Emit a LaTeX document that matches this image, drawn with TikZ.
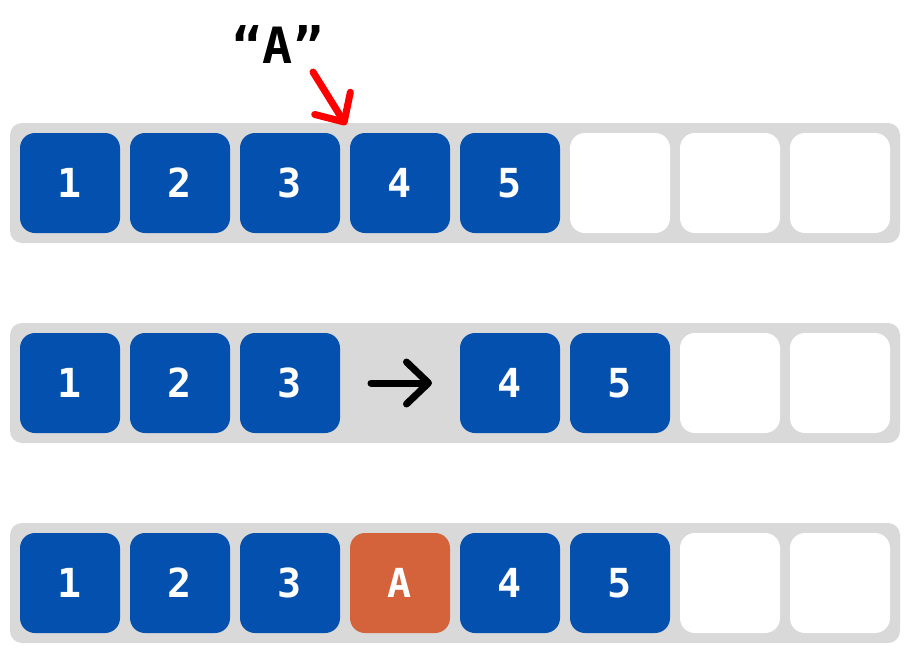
\documentclass[tikz,border=0pt]{standalone}
\usepackage{fontspec}
\setmonofont{DejaVu Sans Mono}
\usetikzlibrary{arrows.meta}
\definecolor{cellblue}{HTML}{0450AE}
\definecolor{cellorange}{HTML}{D4623A}
\definecolor{bargray}{HTML}{D9D9D9}
\tikzset{
  bar/.style={fill=bargray, rounded corners=12pt, minimum width=890pt,
    minimum height=120pt, inner sep=0pt},
  cell/.style={rounded corners=15pt, minimum size=100pt, inner sep=0pt,
    text=white, font=\ttfamily\bfseries\fontsize{40}{40}\selectfont},
  full/.style={cell, fill=cellblue},
  empty/.style={cell, fill=white},
  new/.style={cell, fill=cellorange},
  push/.style={line width=7pt, line cap=round,
    -{Straight Barb[length=22pt, width=42pt, round]}}
}
\begin{document}
\begin{tikzpicture}[x=1pt, y=-1pt]
      \useasboundingbox (0,0) rectangle (910,657);
      % before
      \node[bar] (row1) at (455,183) {};
      \node[full] (a1) at (70,183) {1};
      \node[full] (a2) at (180,183) {2};
      \node[full] (a3) at (290,183) {3};
      \node[full] (a4) at (400,183) {4};
      \node[full] (a5) at (510,183) {5};
      \node[empty] (a6) at (620,183) {};
      \node[empty] (a7) at (730,183) {};
      \node[empty] (a8) at (840,183) {};
      \node[font=\ttfamily\bfseries\fontsize{50}{50}\selectfont] (label) at (278,44) {“A”};
      \coordinate (from) at (313,72);
      \coordinate (to) at (346,125);
      \draw[push, red] (from) -- (to);
      % shift
      \node[bar] (row2) at (455,383) {};
      \node[full] (b1) at (70,383) {1};
      \node[full] (b2) at (180,383) {2};
      \node[full] (b3) at (290,383) {3};
      \node[full] (b4) at (510,383) {4};
      \node[full] (b5) at (620,383) {5};
      \node[empty] (b6) at (730,383) {};
      \node[empty] (b7) at (840,383) {};
      \coordinate (gap) at (371,383);
      \coordinate (next) at (432,383);
      \draw[push, black] (gap) -- (next);
      % after
      \node[bar] (row3) at (455,583) {};
      \node[full] (c1) at (70,583) {1};
      \node[full] (c2) at (180,583) {2};
      \node[full] (c3) at (290,583) {3};
      \node[new] (c4) at (400,583) {A};
      \node[full] (c5) at (510,583) {4};
      \node[full] (c6) at (620,583) {5};
      \node[empty] (c7) at (730,583) {};
      \node[empty] (c8) at (840,583) {};
    \end{tikzpicture}
\end{document}
